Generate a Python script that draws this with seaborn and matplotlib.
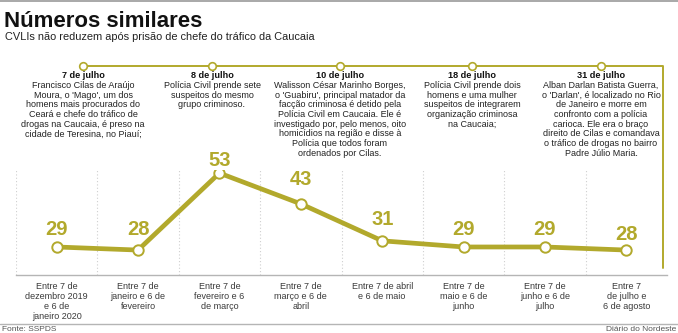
import matplotlib
matplotlib.use("Agg")
import matplotlib.pyplot as plt
import seaborn as sns
import pandas as pd

# ---- data -------------------------------------------------------------
periods = [
    "Entre 7 de\ndezembro 2019\ne 6 de\njaneiro 2020",
    "Entre 7 de\njaneiro e 6 de\nfevereiro",
    "Entre 7 de\nfevereiro e 6\nde março",
    "Entre 7 de\nmarço e 6 de\nabril",
    "Entre 7 de abril\ne 6 de maio",
    "Entre 7 de\nmaio e 6 de\njunho",
    "Entre 7 de\njunho e 6 de\njulho",
    "Entre 7\nde julho e\n6 de agosto",
]
cvli = [29, 28, 53, 43, 31, 29, 29, 28]

event_dates = ["7 de julho", "8 de julho", "10 de julho", "18 de julho", "31 de julho"]
event_texts = [
    ["Francisco Cilas de Araújo", "Moura, o 'Mago', um dos", "homens mais procurados do",
     "Ceará e chefe do tráfico de", "drogas na Caucaia, é preso na", "cidade de Teresina, no Piauí;"],
    ["Polícia Civil prende sete", "suspeitos do mesmo", "grupo criminoso."],
    ["Walisson César Marinho Borges,", "o 'Guabiru', principal matador da",
     "facção criminosa é detido pela", "Polícia Civil em Caucaia. Ele é",
     "investigado por, pelo menos, oito", "homicídios na região e disse à",
     "Polícia que todos foram", "ordenados por Cilas."],
    ["Polícia Civil prende dois", "homens e uma mulher", "suspeitos de integrarem",
     "organização criminosa", "na Caucaia;"],
    ["Alban Darlan Batista Guerra,", "o 'Darlan', é localizado no Rio", "de Janeiro e morre em",
     "confronto com a polícia", "carioca. Ele era o braço", "direito de Cilas e comandava",
     "o tráfico de drogas no bairro", "Padre Júlio Maria."],
]

title = "Números similares"
subtitle = "CVLIs não reduzem após prisão de chefe do tráfico da Caucaia"
source = "Fonte: SSPDS"
credit = "Diário do Nordeste"

# ---- style ------------------------------------------------------------
sns.set_theme(style="white")
plt.rcParams["font.family"] = ["Liberation Sans", "DejaVu Sans"]
NARROW = ["Liberation Sans Narrow", "Liberation Sans", "DejaVu Sans"]
OLIVE = "#b2a92c"
W, H = 678, 333

fig = plt.figure(figsize=(W / 100, H / 100), dpi=100)

# overlay in pixel coordinates for headings, timeline and rules
ov = fig.add_axes([0, 0, 1, 1])
ov.set_xlim(0, W)
ov.set_ylim(H, 0)
ov.axis("off")

# chart area
left, right, top, bottom = 16, 667, 170, 275
ax = fig.add_axes([left / W, (H - bottom) / H, (right - left) / W, (bottom - top) / H])
df = pd.DataFrame({"idx": range(len(cvli)), "cvli": cvli})
sns.lineplot(data=df, x="idx", y="cvli", ax=ax, color=OLIVE, linewidth=3.4,
             marker="o", markersize=7.5, markerfacecolor="white",
             markeredgecolor=OLIVE, markeredgewidth=1.4, sort=False, zorder=5)
ax.set_xlim(-0.5, len(cvli) - 0.5)
ax.set_ylim(19.9, 54)
ax.set_xlabel("")
ax.set_ylabel("")
ax.set_yticks([])
ax.set_xticks(range(len(periods)))
ax.set_xticklabels(periods, fontsize=6.5, color="#3a3a3a", family=NARROW, linespacing=1.15)
ax.tick_params(axis="x", length=0, pad=5)
for s in ["top", "left", "right"]:
    ax.spines[s].set_visible(False)
ax.spines["bottom"].set_color("#b5b5b5")
ax.spines["bottom"].set_linewidth(1.0)
ax.patch.set_alpha(0)
for b in range(len(cvli) + 1):
    ax.axvline(b - 0.5, color="#cfcfcf", linestyle=(0, (1, 2)), linewidth=0.8, zorder=1)

# value labels above each point (pixel offsets)
label_dy = [17.5, 21, 13, 24, 21, 17.5, 17.5, 16]
for i, (v, dy) in enumerate(zip(cvli, label_dy)):
    ax.annotate(str(v), (i, v), xytext=(0, dy), textcoords="offset pixels",
                ha="center", va="center", fontsize=14.5, fontweight="bold",
                color=OLIVE, zorder=6)

# header
ov.plot([0, W], [1, 1], color="#9a9a9a", linewidth=1.2)
ov.text(4, 27, title, fontsize=16, fontweight="bold", color="#111111",
        ha="left", va="baseline")
ov.text(5, 40.5, subtitle, fontsize=7.9, color="#222222", ha="left", va="baseline")

# timeline of events
event_x = [83, 212, 340, 472, 601]
tl_y, corner_x, corner_bottom = 66, 663, 268
ov.plot([event_x[0], corner_x, corner_x], [tl_y, tl_y, corner_bottom],
        color=OLIVE, linewidth=1.4, zorder=2)
ov.scatter(event_x, [tl_y] * len(event_x), s=30, facecolor="white",
           edgecolor=OLIVE, linewidth=1.2, zorder=3)
for x, d, lines in zip(event_x, event_dates, event_texts):
    ov.text(x, 76, d, fontsize=6.6, fontweight="bold", color="#111111",
            ha="center", va="center")
    for k, ln in enumerate(lines):
        ov.text(x, 85.5 + k * 9.7, ln, fontsize=6.5, color="#222222",
                ha="center", va="center")

# footer
ov.plot([0, W], [324, 324], color="#b5b5b5", linewidth=1.0)
ov.text(2, 329.5, source, fontsize=6, color="#555555", ha="left", va="center")
ov.text(W - 2, 329.5, credit, fontsize=6, color="#555555", ha="right", va="center")

fig.savefig("out.png", dpi=100)
